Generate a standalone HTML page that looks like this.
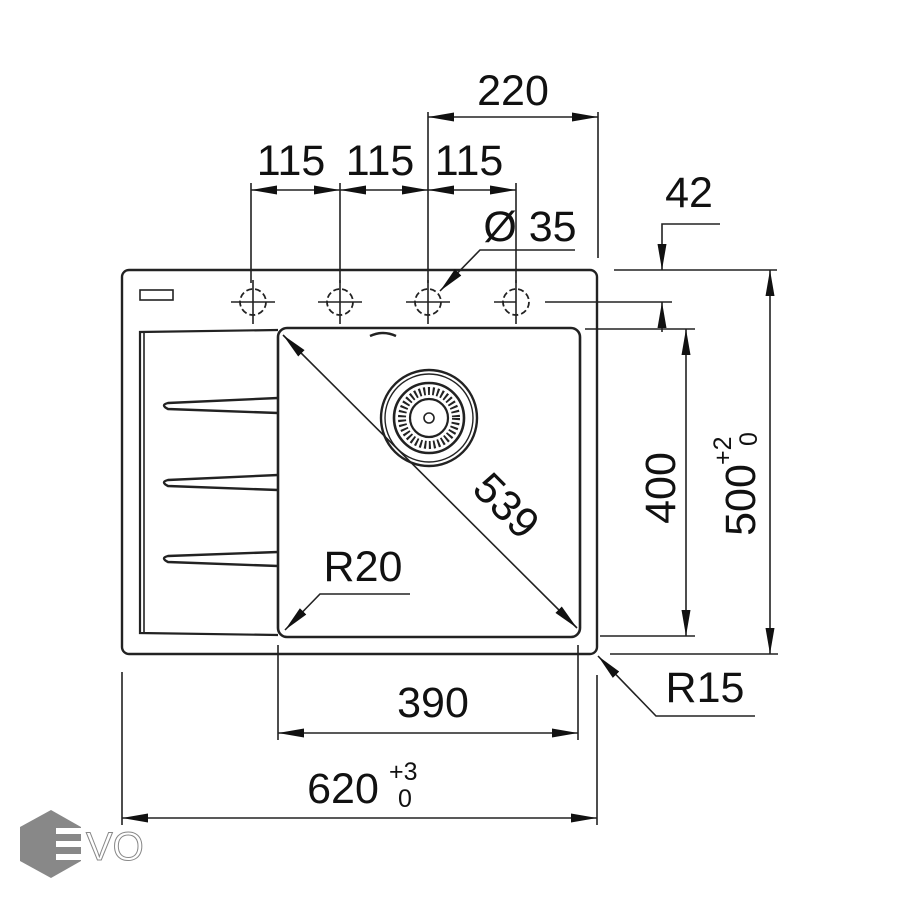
<!DOCTYPE html>
<html><head><style>html,body{margin:0;padding:0;background:#fff}svg{display:block}text{font-family:"Liberation Sans",sans-serif;fill:#111}</style></head>
<body>
<svg width="900" height="900" viewBox="0 0 900 900" xmlns="http://www.w3.org/2000/svg">
<defs>
<marker id="b" viewBox="0 0 26 12" refX="26" refY="6" markerWidth="26" markerHeight="12" markerUnits="userSpaceOnUse" orient="auto-start-reverse"><path d="M0,1.5 L26,6 L0,10.5 z" fill="#111"/></marker>
</defs>
<g stroke="#222" stroke-width="1.6" fill="none">
<rect x="122" y="270" width="475" height="384" rx="7" stroke-width="2.4"/>
<rect x="140" y="290" width="33" height="10" stroke-width="1.6"/>
<rect x="278" y="328" width="302" height="309" rx="9" stroke-width="2.6"/>
<path d="M278,330 L140,332 L140,633 L278,635" stroke-width="2.2"/>
<line x1="144" y1="332" x2="144" y2="633"/>
<path d="M370,336 Q383,330 396,336" stroke-width="2.4"/>
<path d="M278,398 L168,403 Q160,405 168,409 L278,413" stroke-width="2.4"/>
<path d="M278,475 L168,480 Q160,482 168,486 L278,490" stroke-width="2.4"/>
<path d="M278,552 L168,556 Q160,558 168,562 L278,566" stroke-width="2.4"/>
<circle cx="429" cy="418" r="48" stroke-width="2.4"/>
<circle cx="429" cy="418" r="44" stroke-width="1.4"/>
<circle cx="429" cy="418" r="35" stroke-width="2.6"/>
<circle cx="429" cy="418" r="27" stroke-dasharray="2 2.5" stroke-width="8"/>
<circle cx="429" cy="418" r="19" stroke-width="2.2"/>
<circle cx="429" cy="418" r="5"/>
<g stroke-dasharray="6 3" stroke-width="1.8">
<circle cx="253" cy="302" r="13"/><circle cx="340" cy="302" r="13"/><circle cx="428" cy="302" r="13"/><circle cx="516" cy="302" r="13"/>
</g>
<path d="M231,302h44M318,302h44M406,302h44M494,302h22M253,280v44M340,280v44M428,280v44M516,280v44"/>
<line x1="545" y1="302" x2="672" y2="302"/>
<line x1="428" y1="112" x2="428" y2="283"/>
<line x1="598" y1="112" x2="598" y2="258"/>
<line x1="428" y1="117" x2="598" y2="117" marker-start="url(#b)" marker-end="url(#b)"/>
<line x1="251" y1="183" x2="251" y2="283"/>
<line x1="340" y1="183" x2="340" y2="283"/>
<line x1="516" y1="183" x2="516" y2="283"/>
<line x1="251" y1="190" x2="340" y2="190" marker-start="url(#b)" marker-end="url(#b)"/>
<line x1="340" y1="190" x2="428" y2="190" marker-start="url(#b)" marker-end="url(#b)"/>
<line x1="428" y1="190" x2="516" y2="190" marker-start="url(#b)" marker-end="url(#b)"/>
<path d="M575,250 L480,250 L440,291" marker-end="url(#b)"/>
<line x1="614" y1="270" x2="777" y2="270"/>
<line x1="585" y1="329" x2="695" y2="329"/>
<path d="M720,224 L662,224 L662,270" marker-end="url(#b)"/>
<line x1="662" y1="332" x2="662" y2="302" marker-end="url(#b)"/>
<line x1="686" y1="329" x2="686" y2="636" marker-start="url(#b)" marker-end="url(#b)"/>
<line x1="600" y1="636" x2="695" y2="636"/>
<line x1="770" y1="270" x2="770" y2="654" marker-start="url(#b)" marker-end="url(#b)"/>
<line x1="610" y1="654" x2="778" y2="654"/>
<line x1="283" y1="335" x2="577" y2="628" marker-start="url(#b)" marker-end="url(#b)"/>
<path d="M410,594 L320,594 L285,630" marker-end="url(#b)"/>
<path d="M755,716 L656,716 L598,656" marker-end="url(#b)"/>
<line x1="278" y1="645" x2="278" y2="740"/>
<line x1="578" y1="645" x2="578" y2="740"/>
<line x1="278" y1="733" x2="578" y2="733" marker-start="url(#b)" marker-end="url(#b)"/>
<line x1="122" y1="672" x2="122" y2="825"/>
<line x1="597" y1="675" x2="597" y2="825"/>
<line x1="122" y1="818" x2="597" y2="818" marker-start="url(#b)" marker-end="url(#b)"/>
</g>
<g font-size="43">
<text x="513" y="105" text-anchor="middle">220</text>
<text x="291" y="175" text-anchor="middle">115</text>
<text x="380" y="175" text-anchor="middle">115</text>
<text x="469" y="175" text-anchor="middle">115</text>
<text x="530" y="241" text-anchor="middle">Ø 35</text>
<text x="689" y="207" text-anchor="middle">42</text>
<text x="363" y="581" text-anchor="middle">R20</text>
<text x="705" y="702" text-anchor="middle">R15</text>
<text x="433" y="717" text-anchor="middle">390</text>
<text x="343" y="803" text-anchor="middle">620</text>
<text transform="translate(496,516) rotate(45)" text-anchor="middle">539</text>
<text transform="translate(675,488) rotate(-90)" text-anchor="middle">400</text>
<text transform="translate(755,500) rotate(-90)" text-anchor="middle">500</text>
</g>
<g font-size="25">
<text x="389" y="780">+3</text><text x="398" y="807">0</text>
<text transform="translate(731,465) rotate(-90)">+2</text>
<text transform="translate(757,446) rotate(-90)">0</text>
</g>
<polygon points="51,810 81,827 81,861 51,878 20,861 20,827" fill="#888"/>
<rect x="56" y="828" width="26" height="6" fill="#fff"/>
<rect x="56" y="841" width="26" height="6" fill="#fff"/>
<rect x="56" y="854" width="26" height="6" fill="#fff"/>
<text x="86" y="860" font-size="40" style="fill:#fff;stroke:#888;stroke-width:1">VO</text>
</svg>
</body></html>
